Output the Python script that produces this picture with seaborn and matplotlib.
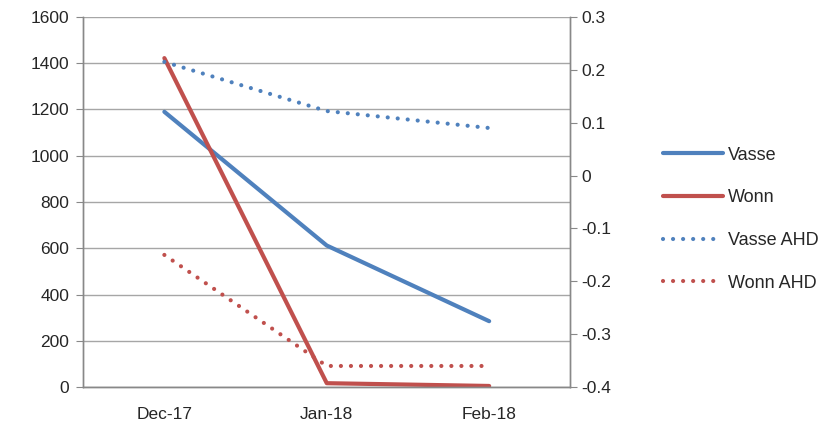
import pandas as pd
import seaborn as sns
import matplotlib.pyplot as plt
from matplotlib.lines import Line2D

# data
months = ["Dec-17", "Jan-18", "Feb-18"]
vasse = [1190, 612, 285]
wonn = [1422, 17, 5]
vasse_ahd = [0.215, 0.122, 0.09]
wonn_ahd = [-0.15, -0.36, -0.36]

blue = "#4F81BD"
red = "#C0504D"
dots = (0, (0.01, 2.4))

sns.set_style("white")
plt.rcParams['font.family'] = ['Liberation Sans', 'DejaVu Sans']
plt.rcParams['font.size'] = 12.5

df = pd.DataFrame({"x": range(len(months)), "Vasse": vasse, "Wonn": wonn,
                   "Vasse AHD": vasse_ahd, "Wonn AHD": wonn_ahd})

fig = plt.figure(figsize=(8.4, 4.34), dpi=100)
ax = fig.add_axes([0.099, 0.108, 0.580, 0.853])
ax2 = ax.twinx()

sns.lineplot(data=df, x="x", y="Vasse", ax=ax, color=blue, lw=3, solid_capstyle="round")
sns.lineplot(data=df, x="x", y="Wonn", ax=ax, color=red, lw=3, solid_capstyle="round")
sns.lineplot(data=df, x="x", y="Vasse AHD", ax=ax2, color=blue, lw=3,
             linestyle=dots, dash_capstyle="round")
sns.lineplot(data=df, x="x", y="Wonn AHD", ax=ax2, color=red, lw=3,
             linestyle=dots, dash_capstyle="round")

ax.set_xlim(-0.5, 2.5)
ax.set_ylim(0, 1600)
ax.set_yticks(range(0, 1601, 200))
ax2.set_ylim(-0.4, 0.3)
ax2.set_yticks([-0.4, -0.3, -0.2, -0.1, 0, 0.1, 0.2, 0.3])
ax2.set_yticklabels(["-0.4", "-0.3", "-0.2", "-0.1", "0", "0.1", "0.2", "0.3"])

ax.set_xticks(range(len(months)))
ax.set_xticklabels(months)
ax.set_xticks([-0.5, 0.5, 1.5, 2.5], minor=True)
ax.tick_params(axis="x", which="major", length=0, pad=14)
ax.tick_params(axis="x", which="minor", length=5, color="#888888", direction="out")
ax.tick_params(axis="y", length=5, color="#888888", direction="out", pad=5)
ax2.tick_params(axis="y", length=5, color="#888888", direction="out", pad=3)

ax.yaxis.grid(True, color="#a6a6a6", lw=1)
ax.set_xlabel("")
ax.set_ylabel("")
ax2.set_ylabel("")

for a in (ax, ax2):
    a.spines["top"].set_visible(False)
    for s in ("left", "right", "bottom"):
        a.spines[s].set_color("#888888")
        a.spines[s].set_linewidth(1)

handles = [
    Line2D([], [], color=blue, lw=3),
    Line2D([], [], color=red, lw=3),
    Line2D([], [], color=blue, lw=3, linestyle=dots, dash_capstyle="round"),
    Line2D([], [], color=red, lw=3, linestyle=dots, dash_capstyle="round"),
]
fig.legend(handles, ["Vasse", "Wonn", "Vasse AHD", "Wonn AHD"],
           loc="center left", bbox_to_anchor=(0.77, 0.495), frameon=False,
           fontsize=13, labelspacing=1.42, handlelength=3.3, handletextpad=0.3)

fig.savefig("out.png", dpi=100)
